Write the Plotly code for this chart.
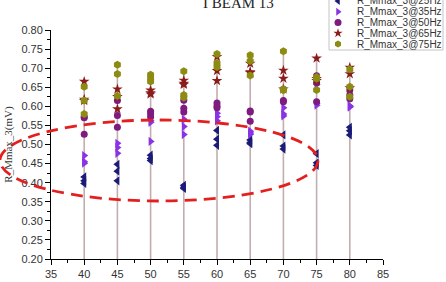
import plotly.graph_objects as go

# ---------------- data ----------------
x_vals = [40, 45, 50, 55, 60, 65, 70, 75, 80]

r25 = [[0.415, 0.405, 0.398], [0.448, 0.430, 0.405], [0.472, 0.463, 0.458],
       [0.393, 0.388, 0.385], [0.537, 0.514, 0.498], [0.512, 0.505, 0.502],
       [0.525, 0.496, 0.488], [0.476, 0.452, 0.445], [0.545, 0.536, 0.525]]
r35 = [[0.471, 0.451, 0.455], [0.503, 0.492, 0.477], [0.508, 0.558, 0.562],
       [0.526, 0.547, 0.566], [0.582, 0.573, 0.562], [0.535, 0.530, 0.527],
       [0.596, 0.575, 0.580], [0.657, 0.603, 0.608], [0.601, 0.600, 0.598]]
r50 = [[0.527, 0.570, 0.572], [0.545, 0.576, 0.615], [0.587, 0.580, 0.572],
       [0.585, 0.595, 0.616], [0.609, 0.601, 0.596], [0.588, 0.561, 0.585],
       [0.615, 0.645, 0.612], [0.680, 0.612, 0.662], [0.643, 0.620, 0.630]]
r65 = [[0.665, 0.615, 0.618], [0.645, 0.593, 0.625], [0.642, 0.635, 0.632],
       [0.668, 0.657, 0.660], [0.730, 0.693, 0.667], [0.712, 0.688, 0.690],
       [0.694, 0.673, 0.645], [0.726, 0.667, 0.672], [0.702, 0.685, 0.648]]
r75 = [[0.651, 0.615, 0.580], [0.709, 0.685, 0.627], [0.683, 0.672, 0.665],
       [0.692, 0.630, 0.623], [0.737, 0.713, 0.703], [0.734, 0.719, 0.681],
       [0.744, 0.645, 0.642], [0.677, 0.643, 0.672], [0.697, 0.651, 0.625]]

series_names = ["R_Mmax_3@25Hz", "R_Mmax_3@35Hz", "R_Mmax_3@50Hz",
                "R_Mmax_3@65Hz", "R_Mmax_3@75Hz"]
series_data = [r25, r35, r50, r65, r75]
series_colors = ["#1b1b78", "#8a33e6", "#7e1a80", "#8b1c1c", "#8c8c12"]
series_symbols = ["triangle-left", "triangle-right", "circle", "star", "hexagon"]
series_sizes = [8, 8, 7, 8, 8]

x_range = [35, 85]
y_range = [0.20, 0.80]
title_text = "I BEAM 13"
y_title = "R_Mmax_3(mV)"

# ---------------- figure ----------------
W, H = 446, 282
PL, PR, PT, PB = 51, 383, 30, 259   # plot area in pixels


def px_x(p):
    return p / W


def px_y(p):
    return 1 - p / H


fig = go.Figure()

# vertical drop lines from the axis floor to the highest point at each x
tops = [max(max(s[i]) for s in series_data) for i in range(len(x_vals))]
lx, ly = [], []
for xv, tv in zip(x_vals, tops):
    lx += [xv, xv, None]
    ly += [y_range[0], tv, None]
fig.add_trace(go.Scatter(x=lx, y=ly, mode="lines",
                         line=dict(color="#c2aeae", width=1.6),
                         showlegend=False, hoverinfo="skip"))

for name, data, col, sym, sz in zip(series_names, series_data, series_colors,
                                    series_symbols, series_sizes):
    xs, ys = [], []
    for xv, vals in zip(x_vals, data):
        for v in vals:
            xs.append(xv)
            ys.append(v)
    fig.add_trace(go.Scatter(x=xs, y=ys, mode="markers", name=name,
                             marker=dict(symbol=sym, size=sz, color=col,
                                         line=dict(width=0)),
                             showlegend=False))

# custom compact legend (keys on a full-figure pixel-scaled overlay axis)
leg_key_x = 338
leg_rows = [1, 11.7, 22.5, 33.2, 44]
for name, col, sym, row in zip(series_names, series_colors, series_symbols, leg_rows):
    fig.add_trace(go.Scatter(x=[leg_key_x], y=[row], xaxis="x2", yaxis="y2",
                             mode="markers", cliponaxis=False,
                             marker=dict(symbol=sym, size=7, color=col,
                                         line=dict(width=0)),
                             showlegend=False, hoverinfo="skip"))
    fig.add_annotation(x=px_x(355), y=px_y(row), xref="paper", yref="paper",
                       text=name, showarrow=False, xanchor="left", yanchor="middle",
                       font=dict(family="Liberation Sans, Arial", size=10, color="#333333"))

fig.add_shape(type="rect", xref="paper", yref="paper",
              x0=px_x(329), x1=px_x(443), y0=px_y(50), y1=px_y(-6),
              line=dict(color="#c4c4c4", width=1), fillcolor="rgba(0,0,0,0)",
              layer="below")

# title
fig.add_annotation(x=px_x(238), y=px_y(3), xref="paper", yref="paper",
                   text=title_text, showarrow=False, xanchor="center", yanchor="middle",
                   font=dict(family="Liberation Serif, Times New Roman", size=15,
                             color="#222222"))

# red dashed ellipse highlight
fig.add_shape(type="circle", xref="paper", yref="paper",
              x0=px_x(0), x1=px_x(318), y0=px_y(201), y1=px_y(120),
              line=dict(color="#e3201f", width=2.8, dash="12px,7px"),
              layer="above")

tick_font = dict(family="Liberation Sans, Arial", size=11, color="#333333")
fig.update_layout(
    width=W, height=H,
    margin=dict(l=0, r=0, t=0, b=0, pad=0, autoexpand=False),
    paper_bgcolor="white", plot_bgcolor="rgba(0,0,0,0)",
    showlegend=False,
    xaxis=dict(domain=[PL / W, PR / W], anchor="y", automargin=False,
               range=x_range, dtick=5, tick0=35, showgrid=False, zeroline=False,
               showline=True, linecolor="black", linewidth=1,
               ticks="outside", ticklen=5, tickwidth=1, tickcolor="black",
               tickfont=tick_font,
               minor=dict(dtick=2.5, tick0=35, ticks="outside", ticklen=3,
                          tickcolor="black", showgrid=False)),
    yaxis=dict(domain=[1 - PB / H, 1 - PT / H], anchor="x", automargin=False,
               range=y_range, dtick=0.05, tick0=0.2, tickformat=".2f",
               showgrid=False, zeroline=False,
               showline=True, linecolor="black", linewidth=1,
               ticks="outside", ticklen=5, tickwidth=1, tickcolor="black",
               tickfont=tick_font,
               title=dict(text=y_title, standoff=6,
                          font=dict(family="Liberation Serif, Times New Roman",
                                    size=11, color="#333333")),
               minor=dict(dtick=0.025, tick0=0.2, ticks="outside", ticklen=3,
                          tickcolor="black", showgrid=False)),
    xaxis2=dict(domain=[0, 1], range=[0, W], visible=False, anchor="y2",
                automargin=False),
    yaxis2=dict(domain=[0, 1], range=[H, 0], visible=False, anchor="x2",
                automargin=False),
)

fig.write_html("out.html")
